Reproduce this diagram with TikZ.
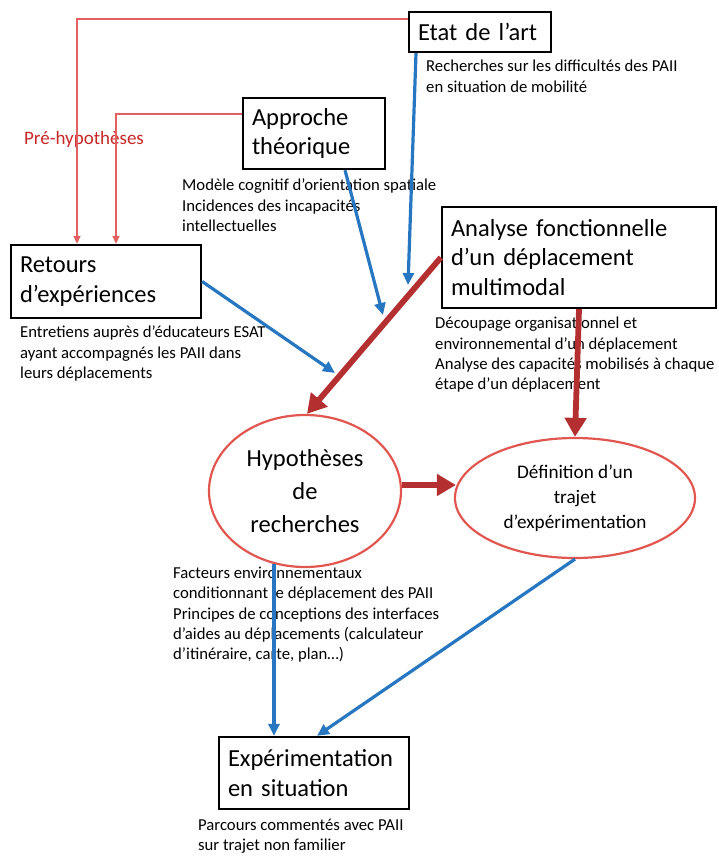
\documentclass[tikz,border=0pt]{standalone}
\usepackage{fontspec}
\setmainfont{Carlito}
\usetikzlibrary{arrows.meta,shapes.geometric}
\definecolor{linkblue}{RGB}{38,118,194}
\definecolor{darkred}{RGB}{180,48,48}
\definecolor{thinred}{RGB}{226,96,96}
\definecolor{labelred}{RGB}{200,40,40}
\definecolor{ovalred}{RGB}{226,86,80}
\tikzset{
  titlebox/.style={draw=black,line width=2.3pt,inner xsep=9pt,inner ysep=0pt,
    align=left,font=\fontsize{24.5}{29.5}\selectfont},
  oval/.style={ellipse,draw=ovalred,line width=2.2pt,inner sep=0pt,align=center},
  note/.style={anchor=north west,inner sep=0pt,align=left,
    font=\fontsize{16.7}{20.3}\selectfont},
  feed/.style={draw=thinred,line width=1.4pt,-{Triangle[length=8pt,width=7pt]}},
  flow/.style={draw=linkblue,line width=3.2pt,-{Triangle[length=12pt,width=11pt]}},
  main/.style={draw=darkred,line width=5.8pt,-{Triangle[length=19pt,width=21pt]}}
}
\begin{document}
\begin{tikzpicture}[x=1pt,y=-1pt]
\useasboundingbox (0,0) rectangle (718,857);

% boxes
\node[titlebox,minimum height=40pt,text width=124pt] (etat) at (480,32) {Etat de l’art};
\node[titlebox,minimum height=71pt,text width=124pt] (approche) at (314,133.5) {Approche\\théorique};
\node[titlebox,minimum height=73pt,text width=172pt] (retours) at (106,281.5) {Retours\\d’expériences};
\node[titlebox,minimum height=101pt,text width=256pt] (analyse) at (579,257.5) {Analyse fonctionnelle\\d’un déplacement\\multimodal};
\node[titlebox,minimum height=72pt,text width=172pt] (exp) at (314,773) {Expérimentation\\en situation};

% ovals
\node[oval,minimum width=192pt,minimum height=152pt,font=\fontsize{24.5}{33}\selectfont] (hyp) at (305,491) {Hypothèses\\de\\recherches};
\node[oval,minimum width=240pt,minimum height=120pt,font=\fontsize{19.2}{25}\selectfont] (def) at (575,498) {Définition d’un\\trajet\\d’expérimentation};

% notes
\node[note] (n1) at (426,60) {Recherches sur les difficultés des PAII\\en situation de mobilité};
\node[note] (n2) at (182,179) {Modèle cognitif d’orientation spatiale\\Incidences des incapacités\\intellectuelles};
\node[note] (n3) at (20,326) {Entretiens auprès d’éducateurs ESAT\\ayant accompagnés les PAII dans\\leurs déplacements};
\node[note] (n4) at (435,317) {Découpage organisationnel et\\environnemental d’un déplacement\\Analyse des capacités mobilisés à chaque\\étape d’un déplacement};
\node[note] (n5) at (173,567) {Facteurs environnementaux\\conditionnant le déplacement des PAII\\Principes de conceptions des interfaces\\d’aides au déplacements (calculateur\\d’itinéraire, carte, plan…)};
\node[note] (n6) at (198,819) {Parcours commentés avec PAII\\sur trajet non familier};
\node[inner sep=0pt,text=labelred,font=\fontsize{19}{22}\selectfont] (pre) at (84,139) {Pré-hypothèses};

% feedback lines
\draw[feed] ([yshift=13pt]etat.west) -| ([xshift=-29pt]retours.north);
\draw[feed] ([yshift=19.5pt]approche.west) -| ([xshift=10pt]retours.north);

% free ends of the converging arrows
\coordinate (m1) at (408,285);
\coordinate (m2) at (383,315);
\coordinate (m3) at (335,373);

% blue arrows
\draw[flow] ([xshift=-64pt]etat.south) -- (m1);
\draw[flow] ([xshift=31pt]approche.south) -- (m2);
\draw[flow] (retours.east) -- (m3);
\draw[flow] (hyp.247) -- (hyp.247 |- exp.north);
\draw[flow] (def.south) -- ([xshift=3pt]exp.north);

% main red arrows
\draw[main] (analyse.west) -- ([xshift=2pt]hyp.north);
\draw[main] (analyse.south) -- (def.north);
\draw[main] ([yshift=6pt]hyp.east) -- ([yshift=6pt,xshift=2pt]hyp.east -| def.west);
\end{tikzpicture}
\end{document}
